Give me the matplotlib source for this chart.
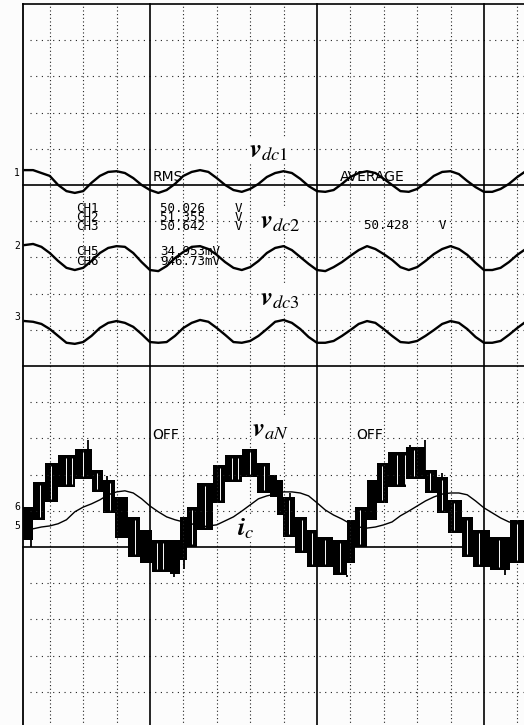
import numpy as np
import matplotlib.pyplot as plt

plt.rcParams['mathtext.fontset'] = 'stix'

# screen time axis in divisions (4 ms/div), 0 = first solid graticule line
t = np.arange(-3.75, 11.5, 0.25)

# capacitor voltages, screen divisions
vdc1 = [15.41, 15.41, 15.33, 15.25, 15.00, 14.83, 14.78, 14.83, 15.06, 15.25,
        15.36, 15.38, 15.33, 15.19, 15.00, 14.86, 14.78, 14.86, 15.03, 15.25,
        15.36, 15.41, 15.36, 15.19, 15.00, 14.86, 14.81, 14.89, 15.03, 15.22,
        15.33, 15.38, 15.33, 15.17, 14.97, 14.83, 14.81, 14.86, 15.03, 15.22,
        15.33, 15.38, 15.33, 15.17, 15.00, 14.83, 14.81, 14.89, 15.06, 15.25,
        15.36, 15.38, 15.30, 15.11, 14.94, 14.81, 14.81, 14.89, 15.03, 15.22, 15.38]
vdc2 = [13.34, 13.37, 13.29, 13.12, 12.90, 12.71, 12.65, 12.71, 12.90, 13.12,
        13.26, 13.31, 13.29, 13.12, 12.87, 12.65, 12.62, 12.76, 12.98, 13.15,
        13.29, 13.31, 13.23, 13.07, 12.87, 12.71, 12.65, 12.73, 12.90, 13.12,
        13.26, 13.31, 13.20, 13.01, 12.82, 12.65, 12.62, 12.73, 12.87, 13.04,
        13.20, 13.31, 13.23, 13.09, 12.93, 12.73, 12.65, 12.73, 12.90, 13.09,
        13.23, 13.31, 13.23, 13.07, 12.85, 12.65, 12.65, 12.71, 12.87, 13.07, 13.23]
vdc3 = [11.24, 11.22, 11.16, 11.02, 10.83, 10.64, 10.61, 10.66, 10.83, 11.05,
        11.19, 11.24, 11.19, 11.08, 10.88, 10.66, 10.64, 10.66, 10.83, 11.05,
        11.19, 11.27, 11.22, 11.05, 10.86, 10.66, 10.64, 10.69, 10.83, 11.02,
        11.22, 11.27, 11.19, 11.02, 10.80, 10.64, 10.64, 10.69, 10.83, 10.99,
        11.16, 11.24, 11.19, 11.02, 10.83, 10.66, 10.64, 10.69, 10.83, 10.99,
        11.16, 11.24, 11.19, 11.02, 10.80, 10.64, 10.64, 10.69, 10.86, 11.05, 11.22]
# load current
ic = [5.75, 5.50, 5.55, 5.58, 5.64, 5.75, 5.97, 6.10, 6.19, 6.30,
      6.44, 6.52, 6.55, 6.49, 6.33, 6.13, 5.97, 5.83, 5.75, 5.69,
      5.64, 5.55, 5.58, 5.61, 5.72, 5.83, 5.99, 6.16, 6.33, 6.41,
      6.46, 6.52, 6.52, 6.49, 6.41, 6.22, 6.02, 5.88, 5.77, 5.64,
      5.55, 5.52, 5.55, 5.61, 5.69, 5.86, 5.99, 6.13, 6.27, 6.38,
      6.46, 6.49, 6.49, 6.44, 6.27, 6.08, 5.94, 5.80, 5.69, 5.64, 5.61]

# multilevel phase voltage: switching band for each level
van_edges = [-3.80, -3.50, -3.14, -2.75, -2.25, -1.74, -1.41, -1.05, -0.66, -0.30,
             0.06, 0.60, 0.90, 1.11, 1.41, 1.89, 2.25, 2.75, 3.20, 3.59,
             3.80, 3.98, 4.34, 4.70, 5.00, 5.48, 5.90, 6.14, 6.50, 6.80,
             7.13, 7.66, 8.23, 8.59, 8.92, 9.34, 9.67, 10.18, 10.78, 11.20]
van_lo = [5.19, 5.75, 6.24, 6.66, 6.88, 6.52, 5.94, 5.25, 4.72, 4.56,
          4.31, 4.25, 4.64, 5.00, 5.47, 6.22, 6.80, 6.93, 6.49, 6.38,
          5.88, 5.28, 4.83, 4.45, 4.45, 4.23, 4.56, 5.00, 5.75, 6.22,
          6.66, 6.88, 6.49, 5.94, 5.39, 4.72, 4.45, 4.36, 4.56]
van_hi = [6.10, 6.80, 7.32, 7.54, 7.71, 7.13, 6.85, 6.38, 5.83, 5.47,
          5.19, 5.19, 5.83, 6.10, 6.77, 7.27, 7.54, 7.71, 7.32, 6.99,
          6.85, 6.38, 5.83, 5.47, 5.28, 5.19, 5.75, 6.10, 6.85, 7.32,
          7.62, 7.76, 7.13, 6.93, 6.30, 5.83, 5.47, 5.28, 5.75]
spike_t = [-3.56, -1.86, -1.30, 0.72, 1.02, 3.50, 4.20, 5.90, 7.78, 8.23, 8.75, 10.63]
spike_lo = [5.00, 7.13, 6.60, 4.17, 4.40, 6.99, 6.20, 4.17, 7.62, 7.13, 6.70, 4.23]
spike_hi = [5.19, 7.96, 6.95, 4.31, 4.70, 7.32, 6.50, 4.23, 7.82, 7.96, 7.05, 4.36]
gap_t = [-3.30, -2.95, -2.50, -2.34, -2.00, -1.58, -1.20, -0.45, 0.20, 0.40,
         1.25, 1.65, 2.10, 2.45, 2.63, 3.00, 3.40, 4.15, 4.55, 4.85, 5.25,
         5.70, 6.30, 6.95, 7.40, 7.63, 7.90, 8.40, 8.75, 9.10, 9.50, 9.85,
         10.45, 11.00]

fig = plt.figure(figsize=(5.24, 7.25), dpi=100, facecolor='#fcfcfc')
ax = fig.add_axes([0, 0, 1, 1])
ax.set_facecolor('#fcfcfc')
ax.set_xlim(-4.49, 11.20)
ax.set_ylim(0.08, 20.11)
ax.axis('off')

left = -3.80
# dotted graticule
for x in [-3, -2, -1, 1, 2, 3, 4, 6, 7, 8, 9, 11]:
    ax.plot([x, x], [0, 20], color='#222222', lw=0.8, ls=(0, (1, 2.3)))
for y in [1, 2, 3, 4, 6, 7, 8, 9, 11, 12, 13, 14, 16, 17, 18, 19]:
    ax.plot([left + 0.2, 11.2], [y, y], color='#222222', lw=0.8, ls=(0, (1, 4.1)))
# solid frame and zone lines
ax.plot([left, left], [0, 20], color='black', lw=1.3)
for y in [5, 10, 15, 20]:
    ax.plot([left, 11.2], [y, y], color='black', lw=1.2)
for x in [0, 5, 10]:
    ax.plot([x, x], [0, 20], color='black', lw=1.2)

# traces
for v in (vdc1, vdc2, vdc3):
    ax.plot(t, v, color='black', lw=1.7)

edges = np.array(van_edges)
lo = np.append(van_lo, van_lo[-1])
hi = np.append(van_hi, van_hi[-1])
ax.fill_between(edges, lo, hi, step='post', color='black', lw=0)
ax.vlines(spike_t, spike_lo, spike_hi, colors='black', lw=1.3)
idx = np.searchsorted(edges, gap_t) - 1
ax.vlines(gap_t, np.array(van_lo)[idx] + 0.08, np.array(van_hi)[idx] - 0.08,
          colors='#fcfcfc', lw=0.7)
ax.plot(t, ic, color='black', lw=1.0)

# channel markers
mk = dict(family='DejaVu Sans Mono', fontsize=7, ha='center', va='center')
for lab, y in [('1', 15.33), ('2', 13.31), ('3', 11.35), ('6', 6.10), ('5', 5.58)]:
    ax.text(-3.98, y, lab, **mk)

# scope readouts
narrow = dict(family=['Liberation Sans Narrow', 'DejaVu Sans'], fontsize=10, va='center')
ax.text(0.08, 15.22, 'RMS', **narrow)
ax.text(5.69, 15.22, 'AVERAGE', **narrow)
ax.text(0.08, 8.08, 'OFF', **narrow)
ax.text(6.19, 8.08, 'OFF', **narrow)

mono = dict(family='DejaVu Sans Mono', fontsize=9, va='center')
ax.text(-2.22, 14.10, 'CH1\nCH2\nCH3', linespacing=0.62, **mono)
ax.text(0.30, 14.10, '50.026    V\n51.355    V\n50.642    V', linespacing=0.62, **mono)
ax.text(-2.22, 13.03, 'CH5\nCH6', linespacing=0.75, **mono)
ax.text(0.30, 13.03, '34.953mV\n946.73mV', linespacing=0.75, **mono)
ax.text(6.41, 13.87, '50.428    V', **mono)

# signal labels
lab = dict(fontsize=19, ha='left', va='baseline',
           bbox=dict(facecolor='#fcfcfc', edgecolor='none', pad=0))
ax.text(2.96, 15.77, r'$\mathbfit{v}_{dc1}$', **lab)
ax.text(3.29, 13.81, r'$\mathbfit{v}_{dc2}$', **lab)
ax.text(3.29, 11.68, r'$\mathbfit{v}_{dc3}$', **lab)
ax.text(3.05, 8.04, r'$\mathbfit{v}_{aN}$', **lab)
ax.text(2.60, 5.33, r'$\mathbfit{i}_{c}$', **lab)

fig.savefig('out.png', dpi=100, facecolor=fig.get_facecolor())
